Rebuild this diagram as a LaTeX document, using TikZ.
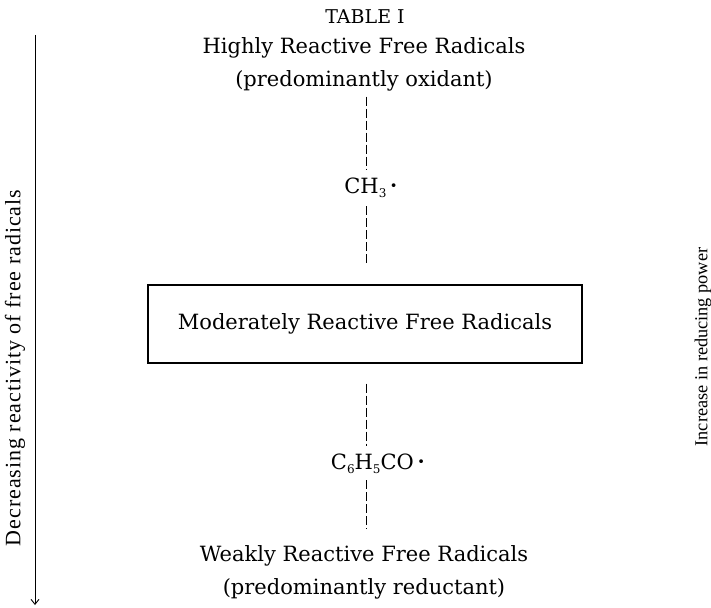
\documentclass[tikz,border=0pt]{standalone}
\usepackage{fontspec}
\newfontfamily\djs{DejaVu Serif}
\newfontfamily\lbs{Liberation Serif}
\newfontfamily\lbsw{Liberation Serif}[LetterSpace=4.3]
\usetikzlibrary{arrows.meta}
\newcommand{\sbs}[1]{\raisebox{-4pt}{\fontsize{12}{12}\selectfont #1}}
\newcommand{\rdot}{\,\raisebox{3pt}{\fontsize{13}{13}\selectfont\djs •}}
\begin{document}
\begin{tikzpicture}[x=1pt,y=-1pt,
  main/.style={font=\djs\fontsize{21}{25}\selectfont, inner sep=0pt},
  side/.style={rotate=90, inner sep=0pt},
  dashline/.style={line width=0.8pt, dash pattern=on 9pt off 3pt},
  framebox/.style={draw, line width=1.2pt, minimum width=434pt, minimum height=78pt, inner sep=0pt, font=\djs\fontsize{21}{25}\selectfont}]
\useasboundingbox (0,0) rectangle (711,607);
\node[main, font=\djs\fontsize{19}{22}\selectfont] (title) at (365,17) {TABLE I};
\node[main] (high1) at (364,48) {Highly Reactive Free Radicals};
\node[main] (high2) at (364,81) {(predominantly oxidant)};
\node[main] (ch3) at (371,188) {CH\sbs{3}\rdot};
\node[framebox] (box) at (365,324) {Moderately Reactive Free Radicals};
\node[main] (c6) at (378,464) {C\sbs{6}H\sbs{5}CO\rdot};
\node[main] (weak1) at (364,556) {Weakly Reactive Free Radicals};
\node[main] (weak2) at (364,589) {(predominantly reductant)};
\draw[dashline] ([yshift=-5pt]high2.south -| 366,0) -- ([yshift=8pt]ch3.north -| 366,0);
\draw[dashline] ([yshift=-8pt]ch3.south -| 366,0) -- ([yshift=20pt]box.north -| 366,0);
\draw[dashline] ([yshift=-20pt]box.south -| 366,0) -- ([yshift=8pt]c6.north -| 366,0);
\draw[dashline] ([yshift=-6pt]c6.south -| 366,0) -- ([yshift=16pt]weak1.north -| 366,0);
\coordinate (atop) at (35,35);
\coordinate (abot) at (35,605);
\draw[line width=0.9pt, -{Straight Barb[length=5pt,width=8pt]}] (atop) -- (abot);
\node[side, font=\lbsw\fontsize{22}{26}\selectfont] (left) at (15,368) {Decreasing reactivity of free radicals};
\node[side, font=\lbs\fontsize{18.3}{22}\selectfont] (right) at (703,347) {Increase in reducing power};
\end{tikzpicture}
\end{document}
